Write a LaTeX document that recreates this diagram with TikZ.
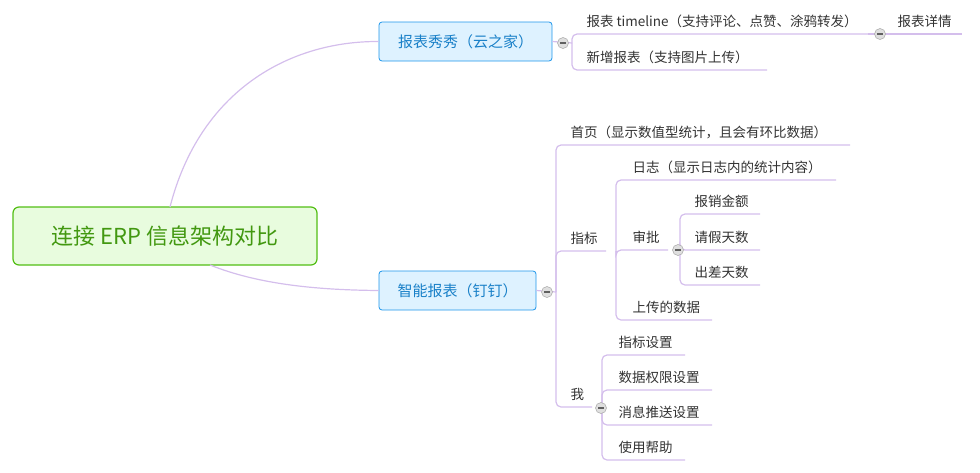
\documentclass[tikz,border=0pt]{standalone}
\usepackage{fontspec}
\setmainfont{Noto Sans CJK SC}
\definecolor{branchc}{RGB}{212,190,236}
\definecolor{rootc}{RGB}{82,190,20}
\definecolor{rootf}{RGB}{232,252,222}
\definecolor{mainc}{RGB}{30,150,235}
\definecolor{mainf}{RGB}{222,242,255}
\definecolor{txtc}{RGB}{50,50,50}
\begin{document}
\begin{tikzpicture}
  [
  x=1pt, y=-1pt, line width=1.2pt,
  root/.style={draw=rootc, fill=rootf, rounded corners=6pt, text=rootc!80!black, font=\fontsize{22}{22}\selectfont, minimum width=304pt, minimum height=58pt},
  topic/.style={draw=mainc, fill=mainf, rounded corners=3pt, line width=0.8pt, text=mainc!85!black, font=\fontsize{15}{15}\selectfont, minimum height=39pt, inner xsep=0pt},
  leaf/.style={anchor=south west, inner sep=0pt, minimum height=24pt, text=txtc, font=\fontsize{13.5}{13.5}\selectfont},
  branch/.style={draw=branchc, rounded corners=5pt},
  fold/.style={circle, draw=gray!70, fill=gray!25, line width=0.5pt, minimum size=11pt, inner sep=0pt, path picture={\draw[line width=1.4pt, gray!75!black] ([xshift=-3pt]path picture bounding box.center) -- ([xshift=3pt]path picture bounding box.center);}}
  ]
\useasboundingbox (0,0) rectangle (980,472);

\node[root] (erp) at (165,236) {连接 ERP 信息架构对比};
\node[topic, minimum width=173pt] (yzj) at (465.5,41.5) {报表秀秀（云之家）};
\node[topic, minimum width=157pt] (dd) at (457.5,290.5) {智能报表（钉钉）};

\draw[branch] (170,207) .. controls (200,90) and (290,41) .. (yzj.west);
\draw[branch] (210,265) .. controls (260,285) and (320,290) .. (dd.west);

% yun zhi jia
\coordinate (fa) at (572,43);
\node[leaf] (tl) at (586,34) {报表 timeline（支持评论、点赞、涂鸦转发）};
\node[leaf] (xz) at (586,70) {新增报表（支持图片上传）};
\draw[branch] (yzj.east) -- (fa);
\draw[branch] (fa) |- (868,34);
\draw[branch] (fa) |- (767,70);
\node[leaf] (xq) at (897,34) {报表详情};
\draw[branch] (868,34) -- (962,34);
\node[fold] (ftl) at (880,34) {};
\node[fold] (fyzj) at (563,43) {};

% ding ding
\coordinate (fb) at (556,292);
\node[leaf] (sy) at (570,145) {首页（显示数值型统计，且会有环比数据）};
\node[leaf] (zb) at (570,251) {指标};
\node[leaf] (wo) at (570,407) {我};
\draw[branch] (dd.east) -- (fb);
\draw[branch] (fb) |- (850,145);
\draw[branch] (fb) |- (606,251);
\draw[branch] (fb) |- (592,407);
\node[fold] (fdd) at (547,292) {};

\coordinate (fz) at (616,251);
\node[leaf] (rz) at (632,180) {日志（显示日志内的统计内容）};
\node[leaf] (sp) at (632,250) {审批};
\node[leaf] (sc) at (632,320) {上传的数据};
\draw[branch] (fz) |- (836,180);
\draw[branch] (fz) |- (668,250);
\draw[branch] (fz) |- (712,320);

\coordinate (fs) at (680,250);
\node[leaf] (bx) at (694,214) {报销金额};
\node[leaf] (qj) at (694,250) {请假天数};
\node[leaf] (cc) at (694,285) {出差天数};
\draw[branch] (fs) |- (760,214);
\draw[branch] (fs) |- (760,250);
\draw[branch] (fs) |- (760,285);
\node[fold] (fsp) at (678,250) {};

\coordinate (fw) at (602,407);
\node[leaf] (zs) at (618,355) {指标设置};
\node[leaf] (qx) at (618,390) {数据权限设置};
\node[leaf] (ts) at (618,425) {消息推送设置};
\node[leaf] (bz) at (618,460) {使用帮助};
\draw[branch] (fw) |- (685,355);
\draw[branch] (fw) |- (712,390);
\draw[branch] (fw) |- (712,425);
\draw[branch] (fw) |- (685,460);
\node[fold] (fwo) at (601,408) {};

\end{tikzpicture}
\end{document}
